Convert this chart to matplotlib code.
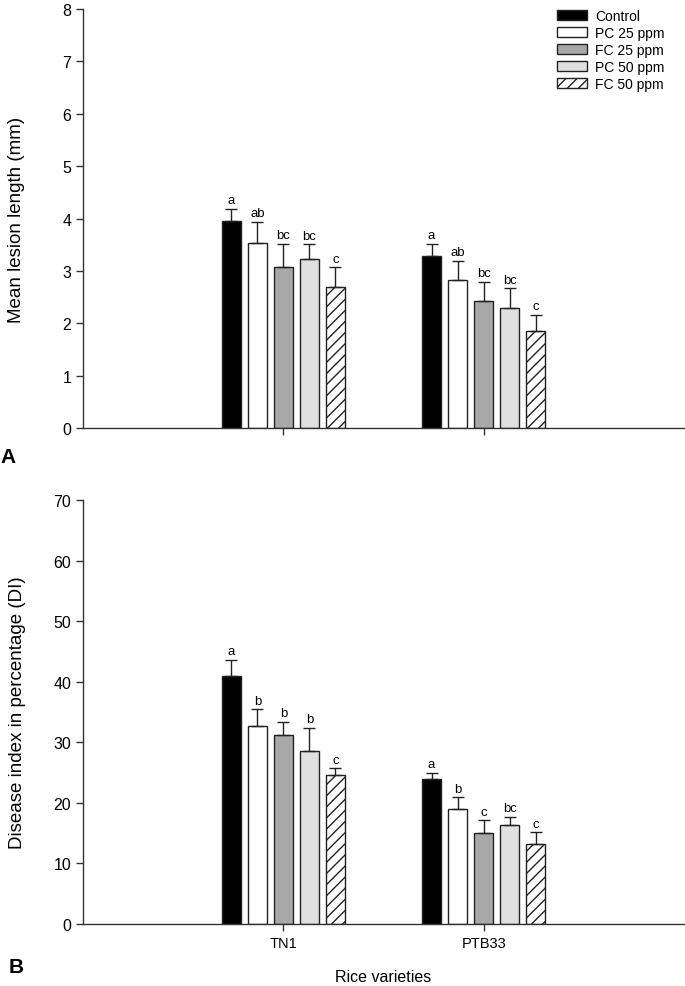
import numpy as np
import matplotlib.pyplot as plt
import matplotlib as mpl

plt.rcParams['font.family'] = ['Liberation Sans', 'DejaVu Sans']
plt.rcParams['hatch.linewidth'] = 1.0

varieties = ["TN1", "PTB33"]
treatments = ["Control", "PC 25 ppm", "FC 25 ppm", "PC 50 ppm", "FC 50 ppm"]

# panel A: mean lesion length (mm), rows = treatments, cols = varieties
lesion = [[3.96, 3.29], [3.54, 2.82], [3.07, 2.42], [3.23, 2.30], [2.70, 1.85]]
lesion_err = [[0.23, 0.23], [0.40, 0.37], [0.45, 0.37], [0.28, 0.37], [0.37, 0.31]]
lesion_let = [["a", "a"], ["ab", "ab"], ["bc", "bc"], ["bc", "bc"], ["c", "c"]]

# panel B: disease index (%)
di = [[41.0, 23.9], [32.7, 19.0], [31.2, 15.1], [28.6, 16.4], [24.6, 13.2]]
di_err = [[2.6, 1.1], [2.8, 1.9], [2.2, 2.0], [3.8, 1.3], [1.1, 2.0]]
di_let = [["a", "a"], ["b", "b"], ["b", "c"], ["b", "bc"], ["c", "c"]]

colors = ["black", "white", "#a8a8a8", "#e0e0e0", "white"]
hatches = [None, None, None, None, "///"]

fig = plt.figure(figsize=(6.85, 9.87), dpi=100)
axA = fig.add_axes([0.1212, 0.5653, 0.8773, 0.4246])
axB = fig.add_axes([0.1212, 0.0628, 0.8773, 0.4296])

x = np.arange(1, len(varieties) + 1)
step = 0.13
width = 0.097


def draw(ax, vals, errs, lets, ymax, ystep, letpad):
    for i in range(len(treatments)):
        pos = x + (i - 2) * step
        ax.bar(pos, vals[i], width, color=colors[i], edgecolor="#222222",
               linewidth=1.0, hatch=hatches[i], label=treatments[i], zorder=2)
        ax.errorbar(pos, vals[i], yerr=[np.zeros(len(x)), errs[i]], fmt="none",
                    ecolor="#222222", elinewidth=1.0, capsize=4.5, capthick=1.0, zorder=3)
        for j in range(len(x)):
            ax.text(pos[j], vals[i][j] + errs[i][j] + letpad, lets[i][j],
                    ha="center", va="bottom", fontsize=9.5)
    ax.set_xlim(0, 3)
    ax.set_ylim(0, ymax)
    ax.set_yticks(np.arange(0, ymax + 0.1, ystep))
    ax.set_xticks(x)
    ax.spines[['right', 'top']].set_visible(False)
    for s in ['left', 'bottom']:
        ax.spines[s].set_color("#333333")
        ax.spines[s].set_linewidth(1.0)
    ax.tick_params(direction="out", length=5, width=1, color="#333333", labelsize=11.5)


draw(axA, lesion, lesion_err, lesion_let, 8, 1, 0.05)
draw(axB, di, di_err, di_let, 70, 10, 0.4)

axA.set_xticklabels([])
axB.set_xticklabels(varieties, fontsize=10.5)
axA.set_ylabel("Mean lesion length (mm)", fontsize=13.5, labelpad=27)
axB.set_ylabel("Disease index in percentage (DI)", fontsize=13.5, labelpad=20)
axB.set_xlabel("Rice varieties", fontsize=11.5, labelpad=14)

axA.legend(loc="upper left", bbox_to_anchor=(0.789, 1.0), frameon=False, fontsize=10,
           borderaxespad=0, borderpad=0,
           handlelength=2.15, handleheight=0.75, handletextpad=0.6, labelspacing=0.22)

fig.text(0.0, 1 - 458 / 987, "A", fontsize=15, fontweight="bold", va="center", ha="left")
fig.text(0.012, 1 - 968 / 987, "B", fontsize=15, fontweight="bold", va="center", ha="left")

plt.savefig("out.png", dpi=100)
plt.close()
